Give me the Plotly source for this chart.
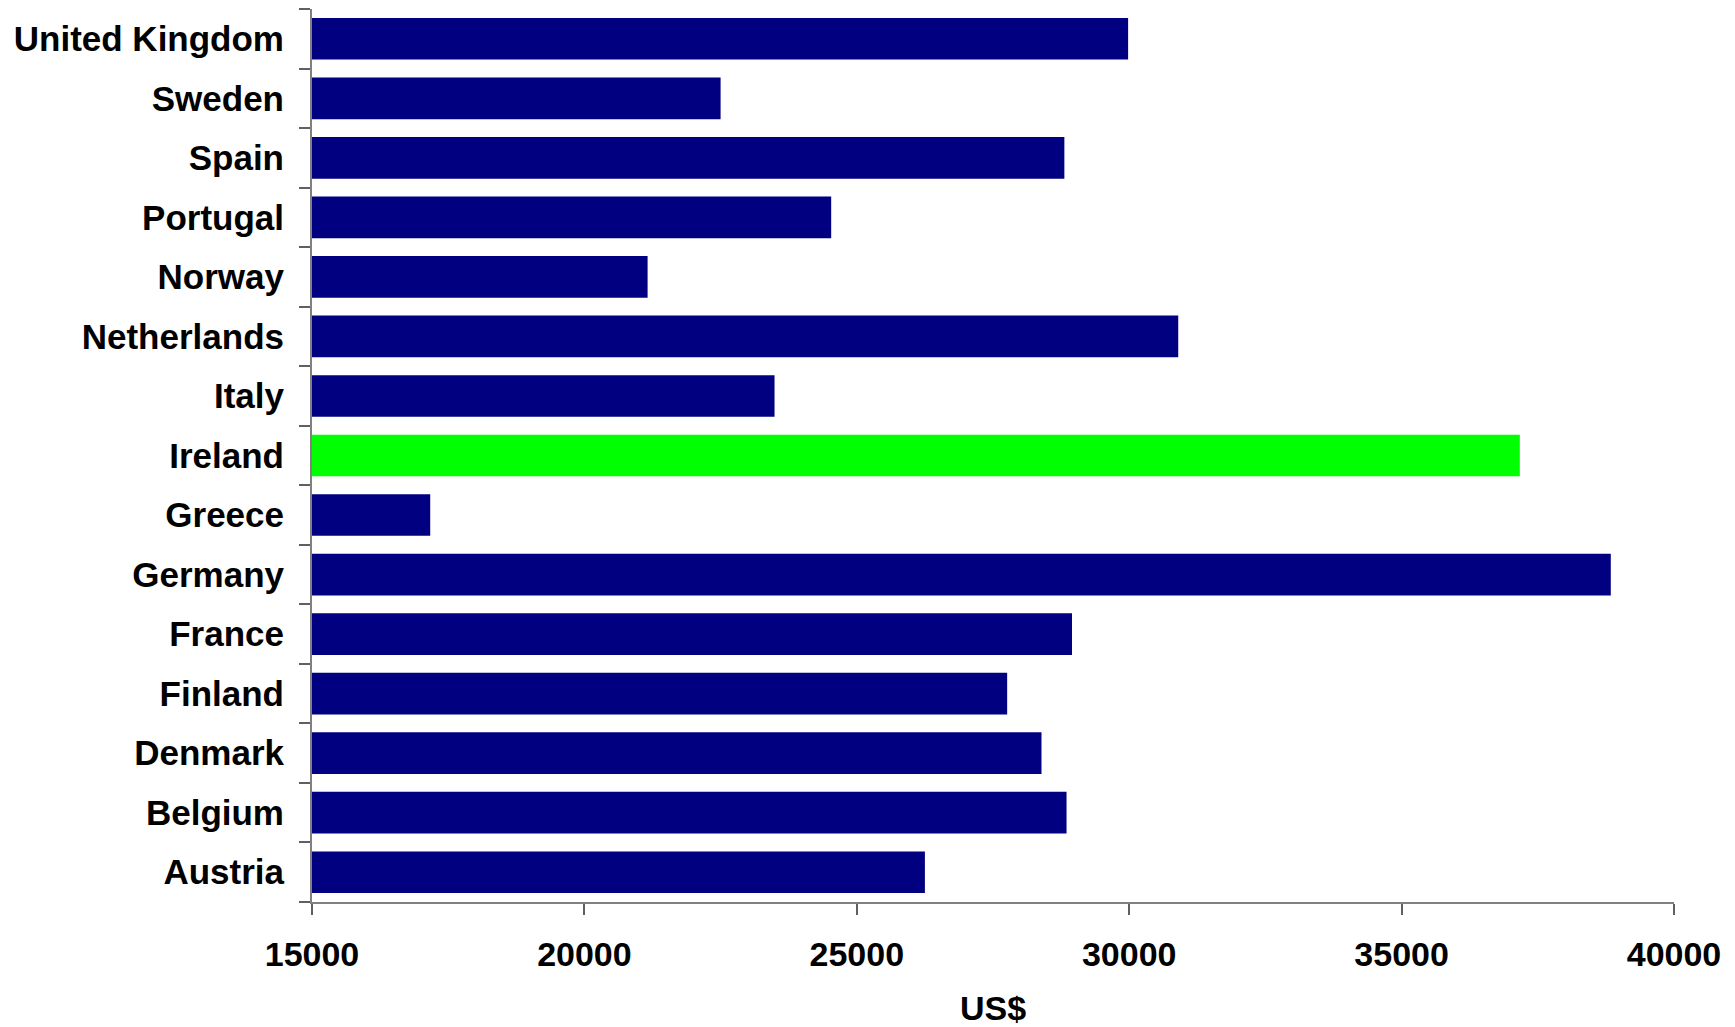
import plotly.graph_objects as go

countries = ["Austria", "Belgium", "Denmark", "Finland", "France", "Germany", "Greece",
             "Ireland", "Italy", "Netherlands", "Norway", "Portugal", "Spain", "Sweden",
             "United Kingdom"]
values = [26250, 28850, 28390, 27760, 28950, 38840, 17170,
          37170, 23490, 30900, 21160, 24530, 28810, 22500, 29980]
highlight = "Ireland"
x_ticks = [15000, 20000, 25000, 30000, 35000, 40000]

colors = ["#00FF00" if c == highlight else "#000080" for c in countries]

font_family = "Liberation Sans, Arial, sans-serif"

fig = go.Figure(go.Bar(
    y=countries, x=values, orientation="h",
    marker=dict(color=colors, line=dict(width=0)),
    width=0.7,
))

fig.update_layout(
    width=1727, height=1019,
    margin=dict(l=304, r=61, t=1, b=125),
    paper_bgcolor="white", plot_bgcolor="white",
    showlegend=False,
    font=dict(family=font_family, size=35, color="black", weight="bold"),
)
fig.update_xaxes(
    range=[15000, 40000], tickvals=x_ticks, ticktext=[str(v) for v in x_ticks],
    showgrid=False, zeroline=False,
    showline=True, linecolor="#808080", linewidth=2,
    ticks="outside", ticklen=11, tickwidth=2, tickcolor="#606060",
    tickfont=dict(family=font_family, size=34, color="black", weight="bold"),
    ticklabelstandoff=10,
    title=dict(text="US$", font=dict(family=font_family, size=34, color="black", weight="bold"), standoff=26),
)
fig.update_yaxes(
    categoryorder="array", categoryarray=countries,
    range=[-0.5, len(countries) - 0.5],
    showgrid=False, zeroline=False,
    showline=True, linecolor="#808080", linewidth=2,
    ticks="outside", ticklen=11, tickwidth=2, tickcolor="#606060", tickson="boundaries",
    tickfont=dict(family=font_family, size=35, color="black", weight="bold"),
    ticklabelstandoff=19,
)

fig.write_html("out.html")
